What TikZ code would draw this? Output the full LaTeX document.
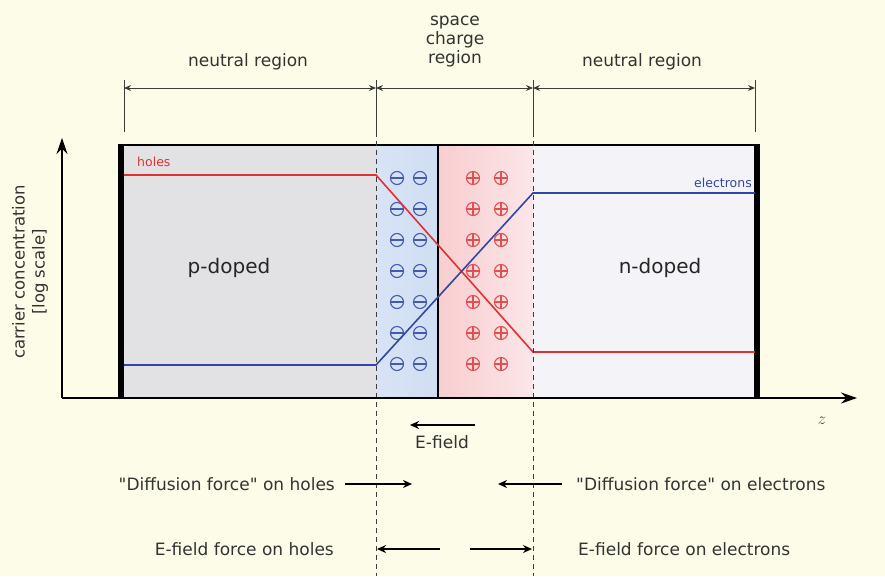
\documentclass[tikz,border=0pt]{standalone}
\usepackage{fontspec}
\setmainfont[Ligatures=TeXOff]{DejaVu Sans}
\usetikzlibrary{arrows.meta}
\definecolor{bg}{RGB}{252,252,232}
\definecolor{pgray}{RGB}{226,226,229}
\definecolor{blueA}{RGB}{216,228,245}
\definecolor{blueB}{RGB}{208,222,243}
\definecolor{redA}{RGB}{249,205,207}
\definecolor{redB}{RGB}{250,230,233}
\definecolor{nwhite}{RGB}{244,244,248}
\definecolor{holecol}{RGB}{222,50,50}
\definecolor{eleccol}{RGB}{50,70,165}
\definecolor{minuscol}{RGB}{70,90,170}
\definecolor{pluscol}{RGB}{225,80,80}
\definecolor{linegray}{RGB}{60,60,60}
\tikzset{
  lab/.style={font=\fontsize{17}{19}\selectfont, text=black!80, inner sep=0pt},
  biglab/.style={font=\fontsize{20}{24}\selectfont, text=black!85, inner sep=0pt},
  small/.style={font=\fontsize{12.5}{14}\selectfont, inner sep=0pt},
  dimarrow/.style={linegray, line width=1pt, {Stealth[length=7pt,width=6pt]}-{Stealth[length=7pt,width=6pt]}},
  tick/.style={linegray, line width=1pt},
  vdash/.style={linegray, line width=0.9pt, dash pattern=on 5pt off 4pt},
  axis/.style={black, line width=1.8pt, -{Stealth[length=16pt,width=11pt]}},
  force/.style={black, line width=1.6pt, -{Stealth[length=9pt,width=8pt]}},
  curve/.style={line width=1.6pt},
  minus/.style={minuscol, line width=1.1pt},
  plus/.style={pluscol, line width=1.1pt}
}
\begin{document}
\begin{tikzpicture}[x=1pt,y=-1pt]
\useasboundingbox (0,0) rectangle (885,576);
\fill[bg] (0,0) rectangle (885,576);
% regions
\fill[pgray] (121,145) rectangle (376,398);
\shade[left color=blueA,right color=blueB] (376,145) rectangle (438,398);
\shade[left color=redA,right color=redB] (438,145) rectangle (533,398);
\fill[nwhite] (533,145) rectangle (757,398);
% box
\draw[black, line width=2pt] (118,145) -- (760,145);
\draw[black, line width=1.2pt] (438,145) -- (438,398);
\draw[black, line width=6pt] (121,145) -- (121,398);
\draw[black, line width=6pt] (757,145) -- (757,398);
% charges
\foreach \yy in {178,209,240,271,302,333,364}{
  \foreach \xx in {397,420}{
    \draw[minus] (\xx,\yy) circle (6.5);
    \draw[minus] (\xx-6.5,\yy) -- (\xx+6.5,\yy);
  }
  \foreach \xx in {473,501}{
    \draw[plus] (\xx,\yy) circle (6.5);
    \draw[plus] (\xx-6.5,\yy) -- (\xx+6.5,\yy);
    \draw[plus] (\xx,\yy-6.5) -- (\xx,\yy+6.5);
  }
}
% curves
\coordinate (h0) at (124,175); \coordinate (h1) at (376,175);
\coordinate (h2) at (533,352); \coordinate (h3) at (755,352);
\coordinate (e0) at (124,365); \coordinate (e1) at (376,365);
\coordinate (e2) at (533,193); \coordinate (e3) at (755,193);
\draw[curve, holecol] (h0) -- (h1) -- (h2) -- (h3);
\draw[curve, eleccol] (e0) -- (e1) -- (e2) -- (e3);
\node[small, text=holecol, anchor=west] (holes) at (137,162) {holes};
\node[small, text=eleccol, anchor=east] (electrons) at (752,183) {electrons};
\node[biglab] (pdoped) at (229,268) {p-doped};
\node[biglab] (ndoped) at (660,268) {n-doped};
% dashed lines
\coordinate (d1t) at (376,132); \coordinate (d1b) at (376,576);
\coordinate (d2t) at (533,132); \coordinate (d2b) at (533,576);
\draw[vdash] (d1t) -- (d1b);
\draw[vdash] (d2t) -- (d2b);
% ticks and dimension arrows
\foreach \xx in {124,376,533,755}{
  \draw[tick] (\xx,80) -- (\xx,132);
}
\coordinate (a0) at (124,88); \coordinate (a1) at (376,88);
\coordinate (a2) at (533,88); \coordinate (a3) at (755,88);
\draw[dimarrow] (a0) -- (a1);
\draw[dimarrow] (a1) -- (a2);
\draw[dimarrow] (a2) -- (a3);
\node[lab] (nr1) at (248,62) {neutral region};
\node[lab] (nr2) at (642,62) {neutral region};
\node[lab, align=center] (scr) at (455,42) {space\\charge\\region};
% axes
\coordinate (O) at (62,398);
\coordinate (ytop) at (62,138);
\coordinate (xend) at (857,398);
\draw[axis] (O) -- (ytop);
\draw[axis] (O) -- (xend);
\node[font=\fontsize{16}{18}\selectfont\itshape, text=black!70] (z) at (822,421) {$z$};
\node[lab, rotate=90, align=center, font=\fontsize{16.5}{20}\selectfont] (ylab) at (30,272) {carrier concentration\\{}[log scale]};
% E-field
\coordinate (ef1) at (475,425); \coordinate (ef2) at (410,425);
\draw[force] (ef1) -- (ef2);
\node[lab] (efield) at (442,442) {E-field};
% diffusion forces
\node[lab, anchor=east] (dh) at (335,484) {"Diffusion force" on holes};
\coordinate (dh1) at (345,484); \coordinate (dh2) at (412,484);
\draw[force] (dh1) -- (dh2);
\coordinate (de1) at (562,484); \coordinate (de2) at (498,484);
\draw[force] (de1) -- (de2);
\node[lab, anchor=west] (de) at (576,484) {"Diffusion force" on electrons};
% E-field forces
\node[lab, anchor=east] (fh) at (334,549) {E-field force on holes};
\coordinate (fh1) at (440,549); \coordinate (fh2) at (377,549);
\draw[force] (fh1) -- (fh2);
\coordinate (fe1) at (470,549); \coordinate (fe2) at (532,549);
\draw[force] (fe1) -- (fe2);
\node[lab, anchor=west] (fe) at (578,549) {E-field force on electrons};
\end{tikzpicture}
\end{document}
